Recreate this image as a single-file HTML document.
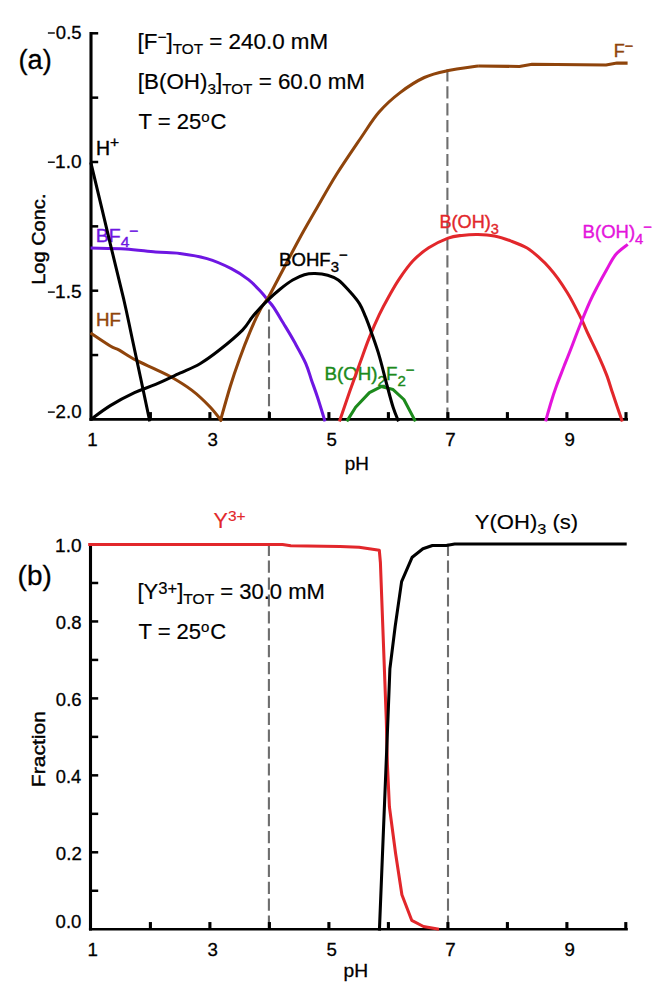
<!DOCTYPE html>
<html><head><meta charset="utf-8"><title>chart</title>
<style>
html,body{margin:0;padding:0;background:#fff;}
svg{display:block;}
text{font-family:"Liberation Sans",sans-serif;}
</style></head><body>
<svg width="661" height="989" viewBox="0 0 661 989">
<rect width="661" height="989" fill="#ffffff"/>
<g stroke="#6e6e6e" stroke-width="2.1" stroke-dasharray="12.2 4.7" fill="none">
<line x1="269" y1="309.5" x2="269" y2="419"/>
<line x1="447.4" y1="69.4" x2="447.4" y2="419"/>
<line x1="268.9" y1="543.7" x2="268.9" y2="929"/>
<line x1="448" y1="543.7" x2="448" y2="929"/>
</g>
<g stroke="#000" fill="none" stroke-linecap="butt">
<path stroke-width="3.1" d="M91.0,32.05 V420.7"/>
<path stroke-width="2.6" d="M89.45,419.4 H628"/>
<path stroke-width="3.1" d="M90.5,545.5 V930.55"/>
<path stroke-width="2.6" d="M88.95,929.25 H627.8"/>
</g>
<g stroke="#000" stroke-width="2.5" fill="none">
<path d="M91,33.30 H98.2"/>
<path d="M91,97.65 H98.2"/>
<path d="M91,162.00 H98.2"/>
<path d="M91,226.35 H98.2"/>
<path d="M91,290.70 H98.2"/>
<path d="M91,355.05 H98.2"/>
<path d="M90.5,582.98 H98.2"/>
<path d="M90.5,621.45 H98.2"/>
<path d="M90.5,659.92 H98.2"/>
<path d="M90.5,698.40 H98.2"/>
<path d="M90.5,736.88 H98.2"/>
<path d="M90.5,775.35 H98.2"/>
<path d="M90.5,813.83 H98.2"/>
<path d="M90.5,852.30 H98.2"/>
<path d="M90.5,890.77 H98.2"/>
</g>
<g stroke="#000" stroke-width="3.1" fill="none">
<path d="M150.40,419.4 V412.10"/>
<path d="M209.90,419.4 V412.10"/>
<path d="M269.40,419.4 V412.10"/>
<path d="M328.90,419.4 V412.10"/>
<path d="M388.40,419.4 V412.10"/>
<path d="M447.90,419.4 V412.10"/>
<path d="M507.40,419.4 V412.10"/>
<path d="M566.90,419.4 V412.10"/>
<path d="M626.00,419.4 V412.10"/>
<path d="M150.40,929.25 V922.05"/>
<path d="M209.90,929.25 V922.05"/>
<path d="M269.40,929.25 V922.05"/>
<path d="M328.90,929.25 V922.05"/>
<path d="M388.40,929.25 V922.05"/>
<path d="M447.90,929.25 V922.05"/>
<path d="M507.40,929.25 V922.05"/>
<path d="M566.90,929.25 V922.05"/>
<path d="M625.80,929.25 V922.05"/>
</g>
<text transform="translate(324.50,379.9) scale(1.0023,1)" font-size="18.7" fill="#1c8a1c" stroke="#1c8a1c" stroke-width="0.4" font-family="Liberation Sans, sans-serif">B(OH)<tspan font-size="15" dy="5.80">2</tspan><tspan dy="-5.80">F</tspan><tspan font-size="15" dy="5.80">2</tspan><tspan font-size="15" dy="-10.80">&#8722;</tspan></text>
<polyline points="346.8,421.4 355.6,407.3 369.4,392.6 381.2,386.6 393.1,389.6 403.9,399.5 415.4,421.4" fill="none" stroke="#1c8a1c" stroke-width="3.05" stroke-linejoin="round" stroke-linecap="butt"/>
<text transform="translate(95.74,241.7) scale(1.0426,1)" font-size="18.7" fill="#6e16e2" stroke="#6e16e2" stroke-width="0.4" font-family="Liberation Sans, sans-serif">BF<tspan font-size="15" dy="5.60">4</tspan><tspan font-size="15" dy="-11.30">&#8722;</tspan></text>
<path d="M90.6,248.0 C96.4,248.2 114.6,248.2 125.4,248.9 C136.2,249.6 146.5,251.2 155.6,252.0 C164.7,252.8 171.2,252.4 179.8,253.5 C188.4,254.6 198.4,256.1 207.0,258.6 C215.6,261.1 224.4,265.1 231.3,268.6 C238.2,272.1 243.6,275.8 248.5,279.6 C253.4,283.4 257.4,288.0 260.7,291.5 C264.0,295.0 266.2,298.2 268.3,300.8 C270.4,303.4 271.0,303.4 273.5,307.2 C276.0,310.9 280.0,317.7 283.4,323.3 C286.8,328.9 290.2,334.3 293.9,341.0 C297.6,347.7 302.8,356.7 305.7,363.3 C308.6,369.9 309.6,374.7 311.6,380.4 C313.6,386.1 315.4,390.7 317.6,397.5 C319.8,404.3 323.8,417.4 325.0,421.4" fill="none" stroke="#6e16e2" stroke-width="3.05" stroke-linejoin="round" stroke-linecap="butt"/>
<path d="M90.6,333.0 C93.9,335.2 105.5,343.1 110.3,346.0 C115.1,348.9 115.0,347.8 119.3,350.2 C123.6,352.6 129.9,357.0 136.0,360.2 C142.1,363.4 149.8,366.5 155.6,369.3 C161.4,372.1 164.7,373.3 170.8,376.8 C176.9,380.3 185.4,385.4 192.0,390.4 C198.6,395.4 205.1,401.8 210.1,407.0 C215.1,412.2 219.9,419.0 221.8,421.4" fill="none" stroke="#8f440b" stroke-width="3.05" stroke-linejoin="round" stroke-linecap="butt"/>
<path d="M220.2,421.4 C221.9,415.5 227.1,396.6 230.3,386.2 C233.5,375.8 236.2,368.0 239.5,358.9 C242.8,349.8 246.6,340.0 250.1,331.6 C253.6,323.2 257.7,314.5 260.7,308.8 C263.7,303.1 265.5,302.3 268.3,297.5 C271.1,292.7 272.5,289.6 277.6,280.0 C282.7,270.4 292.4,251.6 298.7,240.0 C305.0,228.4 309.1,221.5 315.4,210.6 C321.7,199.7 329.0,186.4 336.6,174.3 C344.2,162.2 353.8,148.3 360.8,138.0 C367.9,127.7 372.3,119.9 378.9,112.3 C385.4,104.7 392.5,98.4 400.1,92.6 C407.7,86.8 416.5,81.1 424.3,77.5 C432.1,73.9 438.0,72.7 447.0,70.8 C456.0,68.9 472.9,66.7 478.1,65.9" fill="none" stroke="#8f440b" stroke-width="3.05" stroke-linejoin="round" stroke-linecap="butt"/>
<polyline points="478.1,65.9 519.4,66.5 532.1,64.3 606.0,64.9 617.0,63.1 627.6,63.1" fill="none" stroke="#8f440b" stroke-width="3.05" stroke-linejoin="round" stroke-linecap="butt"/>
<text transform="translate(96.00,326.0) scale(1.0022,1)" font-size="18.7" fill="#8f440b" stroke="#8f440b" stroke-width="0.4" font-family="Liberation Sans, sans-serif">HF</text>
<text transform="translate(613.75,56.6) scale(0.9667,1)" font-size="18.7" fill="#8f440b" stroke="#8f440b" stroke-width="0.4" font-family="Liberation Sans, sans-serif">F<tspan font-size="15" dy="-5.60">&#8722;</tspan></text>
<text transform="translate(439.45,227.9) scale(0.9695,1)" font-size="18.7" fill="#e2272b" stroke="#e2272b" stroke-width="0.4" font-family="Liberation Sans, sans-serif">B(OH)<tspan font-size="15" dy="5.80">3</tspan></text>
<text transform="translate(213.60,528.3) scale(1.0098,1)" font-size="21.3" fill="#e2272b" stroke="#e2272b" stroke-width="0.15" font-family="Liberation Sans, sans-serif">Y<tspan font-size="15.3" dy="-7.30">3+</tspan></text>
<path d="M339.4,421.4 C341.1,416.4 346.3,401.2 349.7,391.6 C353.1,382.0 356.3,373.0 359.6,364.0 C362.9,355.0 366.1,345.6 369.4,337.4 C372.7,329.2 376.0,321.6 379.3,314.7 C382.6,307.8 385.8,301.9 389.1,296.0 C392.4,290.1 395.1,285.1 399.0,279.3 C402.9,273.5 407.9,266.2 412.8,261.0 C417.8,255.8 422.8,251.6 428.7,247.8 C434.6,244.0 442.6,240.3 448.1,238.2 C453.6,236.1 456.7,236.0 461.7,235.4 C466.7,234.8 472.6,234.4 478.0,234.5 C483.4,234.6 488.9,234.9 494.4,236.0 C499.8,237.1 505.2,238.9 510.7,240.9 C516.1,242.9 522.2,245.1 527.1,248.0 C532.0,250.9 536.3,255.1 540.0,258.4 C543.7,261.6 546.1,264.1 549.1,267.5 C552.1,270.9 555.2,274.7 558.2,278.9 C561.2,283.1 564.4,288.0 567.2,292.5 C570.0,297.0 572.3,301.3 574.8,306.1 C577.3,310.9 580.1,316.4 582.4,321.2 C584.7,326.0 585.8,329.1 588.6,335.0 C591.4,340.9 596.0,350.2 599.0,356.8 C602.0,363.4 604.3,368.8 606.6,374.9 C608.9,380.9 610.8,387.8 612.6,393.1 C614.4,398.4 615.6,402.0 617.2,406.7 C618.8,411.4 621.4,418.9 622.3,421.4" fill="none" stroke="#e2272b" stroke-width="3.05" stroke-linejoin="round" stroke-linecap="butt"/>
<polyline points="88.2,544.5 282.5,544.5 290.8,545.7 340.0,546.6 359.1,547.2 379.3,550.2 380.4,562.5 386.3,720.0 387.4,764.5 389.4,806.8 395.6,853.5 401.9,894.7 411.7,920.3 423.5,926.5 439.0,929.2" fill="none" stroke="#e2272b" stroke-width="3.05" stroke-linejoin="round" stroke-linecap="butt"/>
<text transform="translate(582.61,238.0) scale(0.9904,1)" font-size="18.7" fill="#e414dc" stroke="#e414dc" stroke-width="0.4" font-family="Liberation Sans, sans-serif">B(OH)<tspan font-size="15" dy="5.80">4</tspan><tspan font-size="15" dy="-11.80">&#8722;</tspan></text>
<path d="M545.6,421.4 C546.4,418.4 548.8,409.7 550.6,403.7 C552.4,397.7 554.3,391.8 556.6,385.5 C558.9,379.2 561.6,372.6 564.2,365.8 C566.9,359.0 569.9,351.5 572.5,344.7 C575.1,337.9 577.2,332.2 580.1,325.0 C583.0,317.8 587.0,308.0 589.9,301.6 C592.8,295.2 594.7,291.7 597.5,286.4 C600.3,281.1 603.6,275.1 606.6,269.8 C609.6,264.5 612.1,258.9 615.6,254.7 C619.1,250.5 625.7,246.1 627.7,244.4" fill="none" stroke="#e414dc" stroke-width="3.05" stroke-linejoin="round" stroke-linecap="butt"/>
<path d="M90.9,419.4 C94.1,417.1 103.0,410.1 110.3,405.6 C117.6,401.1 127.0,396.1 134.5,392.6 C142.1,389.1 148.0,387.6 155.6,384.4 C163.2,381.2 172.4,376.6 179.8,373.2 C187.2,369.8 193.3,367.6 200.0,363.7 C206.7,359.8 212.6,355.4 219.7,349.8 C226.8,344.2 236.9,335.7 242.5,330.1 C248.1,324.5 248.8,321.1 253.1,316.0 C257.4,310.9 263.8,304.2 268.3,299.7 C272.8,295.2 275.9,292.5 280.0,289.2 C284.1,285.9 288.6,282.4 292.7,280.0 C296.8,277.6 300.7,275.8 304.4,274.7 C308.1,273.6 311.1,273.4 315.0,273.5 C318.9,273.6 323.8,274.1 327.7,275.2 C331.6,276.3 334.6,277.3 338.3,280.0 C342.0,282.7 346.2,287.6 349.8,291.6 C353.4,295.6 357.0,299.7 359.6,303.9 C362.2,308.1 363.5,311.9 365.5,316.7 C367.5,321.5 369.1,325.9 371.4,332.5 C373.7,339.1 376.7,347.2 379.3,356.1 C381.9,365.0 384.8,377.2 387.1,385.7 C389.4,394.2 391.2,401.4 393.1,407.3 C395.0,413.2 397.6,419.0 398.5,421.4" fill="none" stroke="#000" stroke-width="3.05" stroke-linejoin="round" stroke-linecap="butt"/>
<path d="M90.8,162.3 C94.2,176.4 105.5,223.8 111.0,246.8 C116.5,269.8 120.4,285.0 124.0,300.5 C127.6,316.0 128.2,319.9 132.5,340.0 C136.8,360.1 147.0,407.8 149.8,421.4" fill="none" stroke="#000" stroke-width="3.05" stroke-linejoin="round" stroke-linecap="butt"/>
<polyline points="379.4,930.6 387.9,720.0 389.9,668.7 395.2,626.2 401.6,581.6 412.2,557.2 422.9,548.7 432.4,545.5 446.2,545.5 454.7,544.0 626.7,544.0" fill="none" stroke="#000" stroke-width="3.05" stroke-linejoin="round" stroke-linecap="butt"/>
<text transform="translate(95.99,154.8) scale(1.0072,1)" font-size="19.3" fill="#000" stroke="#000" stroke-width="0.4" font-family="Liberation Sans, sans-serif">H<tspan font-size="15.5" dy="-8.00">+</tspan></text>
<text transform="translate(279.11,265.9) scale(0.9933,1)" font-size="18.7" fill="#000" stroke="#000" stroke-width="0.4" font-family="Liberation Sans, sans-serif">BOHF<tspan font-size="15" dy="5.80">3</tspan><tspan font-size="15" dy="-12.00">&#8722;</tspan></text>
<text transform="translate(474.75,528.6) scale(1.0925,1)" font-size="20.2" fill="#000" stroke="#000" stroke-width="0.15" font-family="Liberation Sans, sans-serif">Y(OH)<tspan font-size="15" dy="5.20">3</tspan><tspan dy="-5.20"> (s)</tspan></text>
<text transform="translate(55.86,39.0) scale(0.9878,1)" font-size="18.7" fill="#000" stroke="#000" stroke-width="0.3" font-family="Liberation Sans, sans-serif">0.5</text>
<text transform="translate(55.07,168.3) scale(1.0189,1)" font-size="18.7" fill="#000" stroke="#000" stroke-width="0.3" font-family="Liberation Sans, sans-serif">1.0</text>
<text transform="translate(55.07,298.2) scale(1.0189,1)" font-size="18.7" fill="#000" stroke="#000" stroke-width="0.3" font-family="Liberation Sans, sans-serif">1.5</text>
<text transform="translate(55.60,418.1) scale(0.9979,1)" font-size="18.7" fill="#000" stroke="#000" stroke-width="0.3" font-family="Liberation Sans, sans-serif">2.0</text>
<text transform="translate(55.07,552.3) scale(1.0189,1)" font-size="18.7" fill="#000" stroke="#000" stroke-width="0.3" font-family="Liberation Sans, sans-serif">1.0</text>
<text transform="translate(55.86,629.25) scale(0.9878,1)" font-size="18.7" fill="#000" stroke="#000" stroke-width="0.3" font-family="Liberation Sans, sans-serif">0.8</text>
<text transform="translate(55.86,706.1999999999999) scale(0.9878,1)" font-size="18.7" fill="#000" stroke="#000" stroke-width="0.3" font-family="Liberation Sans, sans-serif">0.6</text>
<text transform="translate(55.87,783.15) scale(0.9778,1)" font-size="18.7" fill="#000" stroke="#000" stroke-width="0.3" font-family="Liberation Sans, sans-serif">0.4</text>
<text transform="translate(55.85,860.0999999999999) scale(0.9979,1)" font-size="18.7" fill="#000" stroke="#000" stroke-width="0.3" font-family="Liberation Sans, sans-serif">0.2</text>
<text transform="translate(55.56,927.7) scale(0.9918,1)" font-size="18.7" fill="#000" stroke="#000" stroke-width="0.3" font-family="Liberation Sans, sans-serif">0.0</text>
<text transform="translate(87.20,445.9) scale(1.0000,1)" font-size="18.7" fill="#000" stroke="#000" stroke-width="0.3" font-family="Liberation Sans, sans-serif">1</text>
<text transform="translate(87.40,955.5) scale(1.0000,1)" font-size="18.7" fill="#000" stroke="#000" stroke-width="0.3" font-family="Liberation Sans, sans-serif">1</text>
<text transform="translate(207.38,445.9) scale(1.0000,1)" font-size="18.7" fill="#000" stroke="#000" stroke-width="0.3" font-family="Liberation Sans, sans-serif">3</text>
<text transform="translate(207.38,955.5) scale(1.0000,1)" font-size="18.7" fill="#000" stroke="#000" stroke-width="0.3" font-family="Liberation Sans, sans-serif">3</text>
<text transform="translate(326.38,445.9) scale(1.0000,1)" font-size="18.7" fill="#000" stroke="#000" stroke-width="0.3" font-family="Liberation Sans, sans-serif">5</text>
<text transform="translate(326.38,955.5) scale(1.0000,1)" font-size="18.7" fill="#000" stroke="#000" stroke-width="0.3" font-family="Liberation Sans, sans-serif">5</text>
<text transform="translate(445.25,445.9) scale(1.0000,1)" font-size="18.7" fill="#000" stroke="#000" stroke-width="0.3" font-family="Liberation Sans, sans-serif">7</text>
<text transform="translate(445.25,955.5) scale(1.0000,1)" font-size="18.7" fill="#000" stroke="#000" stroke-width="0.3" font-family="Liberation Sans, sans-serif">7</text>
<text transform="translate(564.38,445.9) scale(1.0000,1)" font-size="18.7" fill="#000" stroke="#000" stroke-width="0.3" font-family="Liberation Sans, sans-serif">9</text>
<text transform="translate(564.38,955.5) scale(1.0000,1)" font-size="18.7" fill="#000" stroke="#000" stroke-width="0.3" font-family="Liberation Sans, sans-serif">9</text>
<text transform="translate(344.84,469.6) scale(1.0095,1)" font-size="18.7" fill="#000" stroke="#000" stroke-width="0.3" font-family="Liberation Sans, sans-serif">pH</text>
<text transform="translate(343.51,977.2) scale(1.0286,1)" font-size="18.7" fill="#000" stroke="#000" stroke-width="0.3" font-family="Liberation Sans, sans-serif">pH</text>
<text transform="translate(18.54,69.2) scale(1.0068,1)" font-size="27" fill="#000" stroke="#000" stroke-width="0.3" font-family="Liberation Sans, sans-serif">(a)</text>
<text transform="translate(17.59,585.3) scale(1.0339,1)" font-size="27" fill="#000" stroke="#000" stroke-width="0.3" font-family="Liberation Sans, sans-serif">(b)</text>
<text transform="translate(137.62,48.6) scale(1.0565,1)" font-size="21.2" fill="#000" stroke="#000" stroke-width="0.2" font-family="Liberation Sans, sans-serif">[F<tspan font-size="14.5" dy="-6.40">&#8722;</tspan><tspan dy="6.40">]</tspan><tspan font-size="14.5" dy="5.00">TOT</tspan><tspan dy="-5.00"> = 240.0 mM</tspan></text>
<text transform="translate(137.82,88.5) scale(1.0557,1)" font-size="21.2" fill="#000" stroke="#000" stroke-width="0.2" font-family="Liberation Sans, sans-serif">[B(OH)<tspan font-size="14.5" dy="5.40">3</tspan><tspan dy="-5.40">]</tspan><tspan font-size="14.5" dy="5.40">TOT</tspan><tspan dy="-5.40"> = 60.0 mM</tspan></text>
<text transform="translate(138.48,128.7) scale(1.0410,1)" font-size="21.2" fill="#000" stroke="#000" stroke-width="0.2" font-family="Liberation Sans, sans-serif">T = 25<tspan font-size="14.5" dy="-7.20">o</tspan><tspan dy="7.20"><tspan dx="0.8">C</tspan></tspan></text>
<text transform="translate(137.44,599.3) scale(1.0386,1)" font-size="21.2" fill="#000" stroke="#000" stroke-width="0.2" font-family="Liberation Sans, sans-serif">[Y<tspan font-size="16" dy="-5.20">3+</tspan><tspan dy="5.20">]</tspan><tspan font-size="15" dy="5.00">TOT</tspan><tspan dy="-5.00"> = 30.0 mM</tspan></text>
<text transform="translate(138.48,638.7) scale(1.0386,1)" font-size="21.2" fill="#000" stroke="#000" stroke-width="0.2" font-family="Liberation Sans, sans-serif">T = 25<tspan font-size="14.5" dy="-7.20">o</tspan><tspan dy="7.20"><tspan dx="0.8">C</tspan></tspan></text>
<rect x="47.9" y="32.30" width="6.90" height="1.4" fill="#000"/>
<rect x="47.9" y="161.50" width="6.90" height="1.4" fill="#000"/>
<rect x="47.9" y="291.40" width="6.90" height="1.4" fill="#000"/>
<rect x="47.9" y="411.40" width="6.90" height="1.4" fill="#000"/>
<text transform="translate(45.3,239.2) rotate(-90)" font-size="18.7" stroke="#000" stroke-width="0.4" text-anchor="middle" textLength="91.3" lengthAdjust="spacingAndGlyphs">Log Conc.</text>
<text transform="translate(45.3,749.1) rotate(-90)" font-size="18.7" stroke="#000" stroke-width="0.4" text-anchor="middle" textLength="76.2" lengthAdjust="spacingAndGlyphs">Fraction</text>
</svg></body></html>
